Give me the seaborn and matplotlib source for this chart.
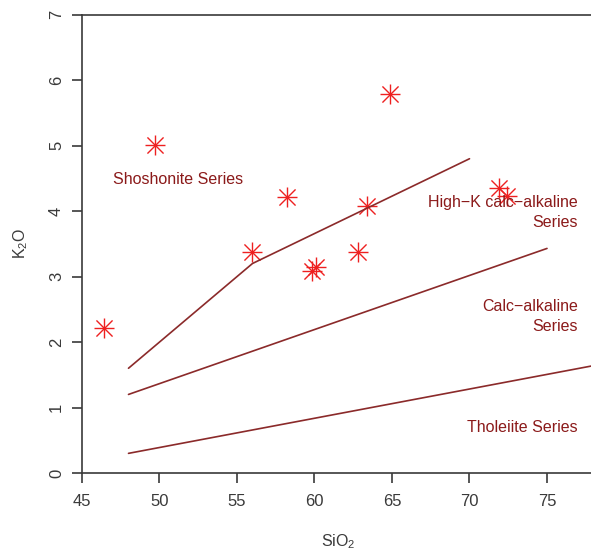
import numpy as np
import pandas as pd
import matplotlib
matplotlib.use("Agg")
import matplotlib.pyplot as plt
import seaborn as sns

# sample analyses (SiO2 vs K2O, wt%)
sio2 = [46.4, 49.7, 56.0, 58.2, 64.9, 63.4, 62.8, 59.85, 60.1, 71.9, 72.4]
k2o = [2.21, 5.01, 3.37, 4.22, 5.79, 4.08, 3.37, 3.08, 3.14, 4.35, 4.23]

# series boundaries (Peccerillo & Taylor style)
sho_hk_x = [48, 56, 70]
sho_hk_y = [1.6, 3.2, 4.8]
hk_ca_x = [48, 75]
hk_ca_y = [1.2, 3.43]
ca_th_x = [48, 78]
ca_th_y = [0.3, 1.64]

sns.set_theme(style="white")
plt.rcParams["font.family"] = ["Liberation Sans", "DejaVu Sans"]
plt.rcParams["mathtext.default"] = "regular"

line_col = "#8b2a2a"
text_col = "#8b1a1a"
axis_col = "#3a3a3a"

fig = plt.figure(figsize=(5.91, 5.53), dpi=100)
ax = fig.add_axes([82 / 591, 80 / 553, 511.5 / 591, 458.3 / 553])

for xs, ys in [(sho_hk_x, sho_hk_y), (hk_ca_x, hk_ca_y), (ca_th_x, ca_th_y)]:
    sns.lineplot(x=xs, y=ys, ax=ax, color=line_col, linewidth=1.2, sort=False)

df = pd.DataFrame({"SiO2": sio2, "K2O": k2o})
sns.scatterplot(data=df, x="SiO2", y="K2O", ax=ax, marker="+", s=210,
                color="#ee2020", linewidth=1.0)
sns.scatterplot(data=df, x="SiO2", y="K2O", ax=ax, marker="x", s=135,
                color="#ee2020", linewidth=1.0)

ax.text(51.2, 4.49, "Shoshonite Series", color=text_col, fontsize=11.5,
        ha="center", va="center")
ax.text(77.0, 3.98, "High\u2212K calc\u2212alkaline\nSeries", color=text_col,
        fontsize=11.5, ha="right", va="center", linespacing=1.45)
ax.text(77.0, 2.39, "Calc\u2212alkaline\nSeries", color=text_col,
        fontsize=11.5, ha="right", va="center", linespacing=1.45)
ax.text(77.0, 0.69, "Tholeiite Series", color=text_col, fontsize=11.5,
        ha="right", va="center")

ax.set_xlim(45, 78)
ax.set_ylim(0, 7)
ax.set_xticks([45, 50, 55, 60, 65, 70, 75])
ax.set_yticks(range(8))
ax.set_xlabel("SiO$_2$", fontsize=11.5, color=axis_col, labelpad=17)
ax.set_ylabel("K$_2$O", fontsize=11.5, color=axis_col, labelpad=14)

for side in ["left", "bottom", "top"]:
    ax.spines[side].set_color(axis_col)
    ax.spines[side].set_linewidth(1.2)
ax.spines["right"].set_visible(False)
ax.tick_params(axis="both", direction="out", length=7, width=1.2,
               color=axis_col, labelcolor=axis_col, labelsize=12,
               bottom=True, left=True)
ax.tick_params(axis="x", pad=8)
ax.tick_params(axis="y", pad=6)
for lab in ax.get_yticklabels():
    lab.set_rotation(90)
    lab.set_va("center")
ax.grid(False)

fig.savefig("out.png", dpi=100)
